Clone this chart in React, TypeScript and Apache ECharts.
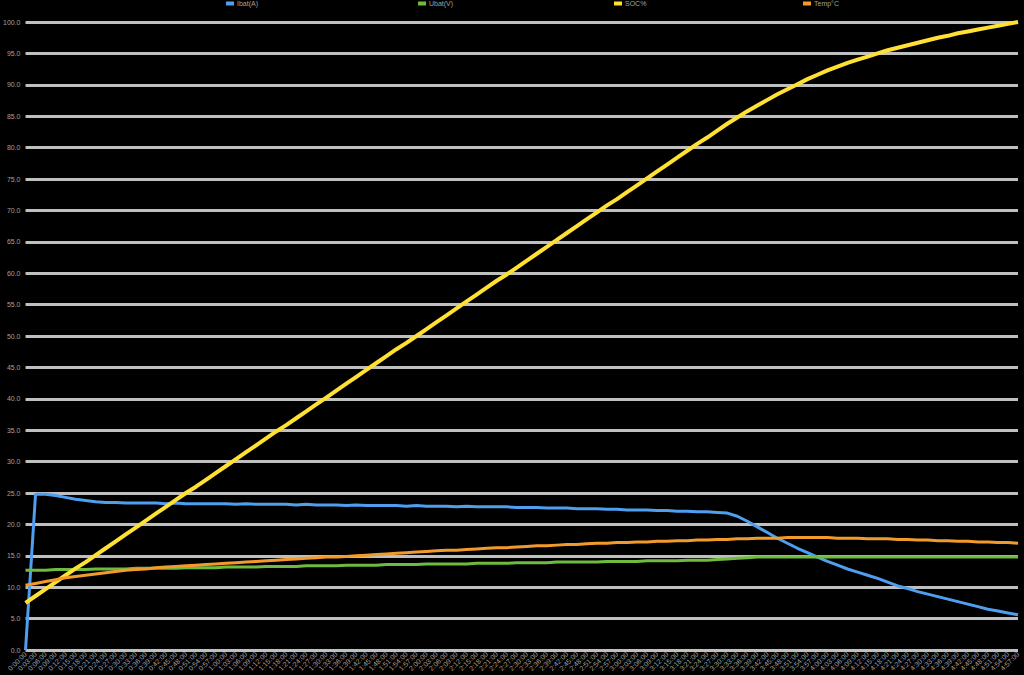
import React, { useEffect, useRef } from "react";
import * as echarts from "echarts";

const seriesNames = ["Ibat(A)", "Ubat(V)", "SOC%", "Temp°C"];

const categories = [
  "0:00:00","0:03:00","0:06:00","0:09:00","0:12:00","0:15:00","0:18:00","0:21:00","0:24:00","0:27:00",
  "0:30:00","0:33:00","0:36:00","0:39:00","0:42:00","0:45:00","0:48:00","0:51:00","0:54:00","0:57:00",
  "1:00:00","1:03:00","1:06:00","1:09:00","1:12:00","1:15:00","1:18:00","1:21:00","1:24:00","1:27:00",
  "1:30:00","1:33:00","1:36:00","1:39:00","1:42:00","1:45:00","1:48:00","1:51:00","1:54:00","1:57:00",
  "2:00:00","2:03:00","2:06:00","2:09:00","2:12:00","2:15:00","2:18:00","2:21:00","2:24:00","2:27:00",
  "2:30:00","2:33:00","2:36:00","2:39:00","2:42:00","2:45:00","2:48:00","2:51:00","2:54:00","2:57:00",
  "3:00:00","3:03:00","3:06:00","3:09:00","3:12:00","3:15:00","3:18:00","3:21:00","3:24:00","3:27:00",
  "3:30:00","3:33:00","3:36:00","3:39:00","3:42:00","3:45:00","3:48:00","3:51:00","3:54:00","3:57:00",
  "4:00:00","4:03:00","4:06:00","4:09:00","4:12:00","4:15:00","4:18:00","4:21:00","4:24:00","4:27:00",
  "4:30:00","4:33:00","4:36:00","4:39:00","4:42:00","4:45:00","4:48:00","4:51:00","4:54:00","4:57:00",
];

const ibat = [
  0, 24.8, 24.8, 24.6, 24.3, 24.0, 23.8, 23.6, 23.5, 23.5,
  23.4, 23.4, 23.4, 23.4, 23.3, 23.4, 23.3, 23.3, 23.3, 23.3,
  23.3, 23.2, 23.3, 23.2, 23.2, 23.2, 23.2, 23.1, 23.2, 23.1,
  23.1, 23.1, 23.0, 23.1, 23.0, 23.0, 23.0, 23.0, 22.9, 23.0,
  22.9, 22.9, 22.9, 22.8, 22.9, 22.8, 22.8, 22.8, 22.8, 22.7,
  22.7, 22.7, 22.6, 22.6, 22.6, 22.5, 22.5, 22.5, 22.4, 22.4,
  22.3, 22.3, 22.3, 22.2, 22.2, 22.1, 22.1, 22.0, 22.0, 21.9,
  21.8, 21.3, 20.5, 19.6, 18.7, 17.8, 17.0, 16.2, 15.5, 14.8,
  14.1, 13.5, 12.9, 12.4, 11.9, 11.4, 10.8, 10.2, 9.8, 9.3,
  8.9, 8.5, 8.1, 7.7, 7.3, 6.9, 6.5, 6.2, 5.9, 5.6,
];

const ubat = [
  12.7, 12.7, 12.7, 12.8, 12.8, 12.8, 12.8, 12.9, 12.9, 12.9,
  12.9, 13.0, 13.0, 13.0, 13.0, 13.0, 13.1, 13.1, 13.1, 13.1,
  13.2, 13.2, 13.2, 13.2, 13.3, 13.3, 13.3, 13.3, 13.4, 13.4,
  13.4, 13.4, 13.5, 13.5, 13.5, 13.5, 13.6, 13.6, 13.6, 13.6,
  13.7, 13.7, 13.7, 13.7, 13.7, 13.8, 13.8, 13.8, 13.8, 13.9,
  13.9, 13.9, 13.9, 14.0, 14.0, 14.0, 14.0, 14.0, 14.1, 14.1,
  14.1, 14.1, 14.2, 14.2, 14.2, 14.2, 14.3, 14.3, 14.3, 14.4,
  14.5, 14.6, 14.7, 14.8, 14.8, 14.8, 14.8, 14.8, 14.8, 14.8,
  14.8, 14.8, 14.8, 14.8, 14.8, 14.8, 14.8, 14.8, 14.8, 14.8,
  14.8, 14.8, 14.8, 14.8, 14.8, 14.8, 14.8, 14.8, 14.8, 14.8,
];

const soc = [
  7.5, 8.6, 9.7, 10.8, 11.9, 13.0, 14.0, 15.1, 16.2, 17.3,
  18.4, 19.5, 20.6, 21.7, 22.8, 23.9, 25.0, 26.0, 27.1, 28.2,
  29.3, 30.4, 31.5, 32.6, 33.7, 34.8, 35.8, 36.9, 38.0, 39.1,
  40.2, 41.3, 42.4, 43.5, 44.6, 45.7, 46.8, 47.9, 48.9, 50.0,
  51.1, 52.2, 53.3, 54.4, 55.5, 56.6, 57.7, 58.8, 59.8, 60.9,
  62.0, 63.1, 64.2, 65.3, 66.4, 67.5, 68.6, 69.7, 70.8, 71.8,
  72.9, 74.0, 75.1, 76.2, 77.3, 78.4, 79.5, 80.6, 81.6, 82.7,
  83.8, 84.8, 85.8, 86.7, 87.6, 88.5, 89.3, 90.1, 90.9, 91.6,
  92.3, 92.9, 93.5, 94.0, 94.5, 95.0, 95.5, 95.9, 96.3, 96.7,
  97.1, 97.5, 97.8, 98.2, 98.5, 98.8, 99.1, 99.4, 99.7, 100.0,
];

const temp = [
  10.3, 10.6, 10.9, 11.2, 11.5, 11.7, 11.9, 12.1, 12.3, 12.5,
  12.7, 12.8, 12.9, 13.1, 13.2, 13.3, 13.4, 13.5, 13.6, 13.7,
  13.8, 13.9, 14.0, 14.1, 14.2, 14.3, 14.4, 14.5, 14.6, 14.7,
  14.8, 14.8, 14.9, 15.0, 15.1, 15.2, 15.3, 15.4, 15.5, 15.6,
  15.7, 15.8, 15.9, 15.9, 16.0, 16.1, 16.2, 16.3, 16.3, 16.4,
  16.5, 16.6, 16.6, 16.7, 16.8, 16.8, 16.9, 17.0, 17.0, 17.1,
  17.1, 17.2, 17.2, 17.3, 17.3, 17.4, 17.4, 17.5, 17.5, 17.6,
  17.6, 17.7, 17.7, 17.8, 17.8, 17.8, 17.9, 17.9, 17.9, 17.9,
  17.9, 17.8, 17.8, 17.8, 17.7, 17.7, 17.7, 17.6, 17.6, 17.5,
  17.5, 17.4, 17.4, 17.3, 17.3, 17.2, 17.2, 17.1, 17.1, 17.0,
];

const colors = ["#4f9ff0", "#6fbb3f", "#ffe033", "#f39a2c"];
const seriesData = [ibat, ubat, soc, temp];
const lineWidths = [3, 3, 4, 3];
const legendLefts = [226, 418, 614, 803];

export default function App() {
  const ref = useRef<HTMLDivElement>(null);
  useEffect(() => {
    if (!ref.current) return;
    const chart = echarts.init(ref.current, null, { renderer: "svg" });
    const font = "'Liberation Sans', Arial, sans-serif";
    chart.setOption({
      animation: false,
      backgroundColor: "#000000",
      color: colors,
      legend: seriesNames.map((n, i) => ({
        data: [n],
        left: legendLefts[i],
        top: 0,
        padding: 0,
        itemWidth: 8,
        itemHeight: 4,
        itemGap: 3,
        icon: "rect",
        textStyle: { color: "#a0a0a0", fontSize: 7, fontFamily: font, padding: [0, 0, 0, -2] },
      })),
      grid: { left: 25, right: 6, top: 22, bottom: 25, containLabel: false },
      xAxis: {
        type: "category",
        data: categories,
        boundaryGap: false,
        axisLine: { show: false },
        axisTick: { show: false },
        axisLabel: {
          interval: 0,
          rotate: 45,
          fontSize: 7,
          color: "#a0a0a0",
          fontFamily: font,
          margin: 3,
        },
        splitLine: { show: false },
      },
      yAxis: {
        type: "value",
        min: 0,
        max: 100,
        interval: 5,
        axisLine: { show: false },
        axisTick: { show: false },
        axisLabel: {
          fontSize: 7,
          color: "#a0a0a0",
          fontFamily: font,
          margin: 5,
          formatter: (v: number) => v.toFixed(1),
        },
        splitLine: { show: true, lineStyle: { color: "#bfbfbf", width: 3 } },
      },
      series: seriesNames.map((n, i) => ({
        name: n,
        type: "line",
        data: seriesData[i],
        showSymbol: false,
        symbol: "none",
        lineStyle: { width: lineWidths[i], color: colors[i] },
        itemStyle: { color: colors[i] },
        z: 2 + i,
      })),
    });
    return () => chart.dispose();
  }, []);
  return (
    <div
      ref={ref}
      style={{ position: "fixed", left: 0, top: 0, width: 1024, height: 675, background: "#000" }}
    />
  );
}
